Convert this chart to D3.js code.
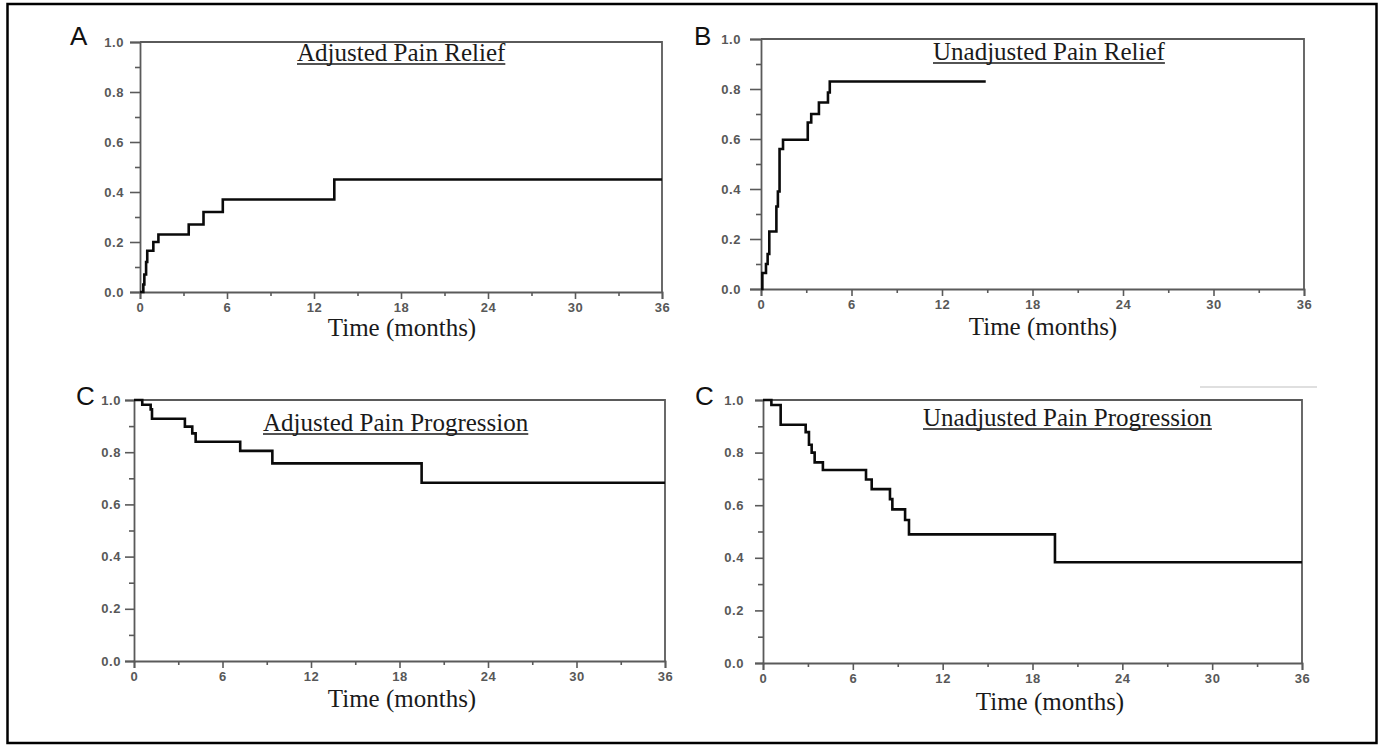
<!DOCTYPE html>
<html>
<head>
<meta charset="utf-8">
<script src="https://cdn.jsdelivr.net/npm/d3@7"></script>
<style>
  html, body { margin: 0; padding: 0; background: #fff; }
  svg { display: block; }
  .tick-label { font-family: "Liberation Sans", Arial, sans-serif; font-size: 13px; font-weight: bold; fill: #585858; letter-spacing: 0.6px; }
  .serif { font-family: "Liberation Serif", "Times New Roman", serif; fill: #1a1a1a; }
  .letter { font-family: "Liberation Sans", Arial, sans-serif; font-size: 26px; fill: #111; }
</style>
</head>
<body>
<svg id="chart" width="1385" height="746"></svg>
<script>
// Kaplan-Meier style step curves: event times (months) and cumulative proportions
const xTicks = [0, 6, 12, 18, 24, 30, 36];
const xMinorTicks = [3, 9, 15, 21, 27, 33];
const yTicks = [0, 0.2, 0.4, 0.6, 0.8, 1.0];
const yMinorTicks = [0.1, 0.3, 0.5, 0.7, 0.9];
const xAxisTitle = "Time (months)";

const titles = ["Adjusted Pain Relief", "Unadjusted Pain Relief", "Adjusted Pain Progression", "Unadjusted Pain Progression"];
const letters = ["A", "B", "C", "C"];

const timesA = [0, 0.23, 0.3, 0.42, 0.5, 0.92, 1.27, 3.36, 4.38, 5.71, 13.4, 36];
const valsA  = [0, 0.03, 0.07, 0.12, 0.165, 0.20, 0.23, 0.27, 0.32, 0.37, 0.45, 0.45];

const timesB = [0, 0.09, 0.33, 0.44, 0.55, 1.02, 1.12, 1.23, 1.46, 3.1, 3.33, 3.84, 4.44, 4.56, 14.9];
const valsB  = [0, 0.064, 0.10, 0.14, 0.23, 0.33, 0.39, 0.56, 0.597, 0.666, 0.70, 0.746, 0.786, 0.83, 0.83];

const timesC = [0, 0.56, 1.13, 1.22, 3.45, 3.95, 4.18, 7.2, 9.38, 19.5, 36];
const valsC  = [1, 0.982, 0.964, 0.928, 0.898, 0.872, 0.84, 0.805, 0.757, 0.683, 0.683];

const timesD = [0, 0.56, 1.18, 2.85, 3.07, 3.25, 3.45, 4.0, 6.88, 7.26, 8.48, 8.64, 9.49, 9.75, 19.5, 36];
const valsD  = [1, 0.981, 0.906, 0.878, 0.83, 0.80, 0.763, 0.734, 0.698, 0.661, 0.623, 0.584, 0.544, 0.489, 0.383, 0.383];

const seriesTimes = [timesA, timesB, timesC, timesD];
const seriesVals = [valsA, valsB, valsC, valsD];

// Panel frames and text placement
const layout = [
  { l: 140, r: 662, t: 42, b: 292, labelGap: 16, majorLen: 10, letterX: 70, letterY: 45, titleX: 297, titleY: 61, axisTitleX: 402, axisTitleY: 336 },
  { l: 761, r: 1304, t: 39, b: 289, labelGap: 20, majorLen: 11, letterX: 694, letterY: 45, titleX: 933, titleY: 60, axisTitleX: 1043, axisTitleY: 335 },
  { l: 134, r: 665, t: 400, b: 661, labelGap: 13, majorLen: 9, letterX: 76, letterY: 405, titleX: 263, titleY: 431, axisTitleX: 402, axisTitleY: 707 },
  { l: 763, r: 1302, t: 400, b: 663, labelGap: 19, majorLen: 8, letterX: 695, letterY: 405, titleX: 923, titleY: 426, axisTitleX: 1050, axisTitleY: 710 }
];

const svg = d3.select("#chart");

// outer frame
svg.append("rect")
  .attr("x", 7.5).attr("y", 4)
  .attr("width", 1369).attr("height", 739)
  .attr("fill", "none").attr("stroke", "#000").attr("stroke-width", 2.5);

// faint rule above the last panel
svg.append("line")
  .attr("x1", 1200).attr("x2", 1317).attr("y1", 387).attr("y2", 387)
  .attr("stroke", "#d4d4d4").attr("stroke-width", 1.5);

layout.forEach((p, i) => {
  const g = svg.append("g");
  const x = d3.scaleLinear().domain([0, 36]).range([p.l, p.r]);
  const y = d3.scaleLinear().domain([0, 1]).range([p.b, p.t]);
  const axisColor = "#5a5a5a";

  // frame top and right sides
  g.append("path")
    .attr("d", `M${p.l},${p.t}H${p.r}V${p.b}`)
    .attr("fill", "none").attr("stroke", axisColor).attr("stroke-width", 1.8);

  // y axis
  const yAxis = g.append("g").attr("transform", `translate(${p.l},0)`)
    .call(d3.axisLeft(y).tickValues(yTicks).tickFormat(d3.format(".1f"))
      .tickSize(p.majorLen).tickPadding(p.labelGap - p.majorLen));
  yAxis.selectAll("text").attr("class", "tick-label").attr("fill", null);
  yAxis.select(".domain").attr("stroke", axisColor).attr("stroke-width", 1.8);
  yAxis.selectAll(".tick line").attr("stroke", axisColor).attr("stroke-width", 1.6);
  const yMinor = g.append("g").attr("transform", `translate(${p.l},0)`)
    .call(d3.axisLeft(y).tickValues(yMinorTicks).tickSize(5).tickFormat(""));
  yMinor.select(".domain").remove();
  yMinor.selectAll(".tick line").attr("stroke", axisColor).attr("stroke-width", 1.6);

  // x axis
  const xAxis = g.append("g").attr("transform", `translate(0,${p.b})`)
    .call(d3.axisBottom(x).tickValues(xTicks).tickSize(7).tickPadding(4));
  xAxis.selectAll("text").attr("class", "tick-label").attr("fill", null);
  xAxis.select(".domain").attr("stroke", axisColor).attr("stroke-width", 1.8);
  xAxis.selectAll(".tick line").attr("stroke", axisColor).attr("stroke-width", 1.6);
  const xMinor = g.append("g").attr("transform", `translate(0,${p.b})`)
    .call(d3.axisBottom(x).tickValues(xMinorTicks).tickSize(4).tickFormat(""));
  xMinor.select(".domain").remove();
  xMinor.selectAll(".tick line").attr("stroke", axisColor).attr("stroke-width", 1.6);

  // step curve
  const pts = seriesTimes[i].map((t, k) => [t, seriesVals[i][k]]);
  const line = d3.line().x(d => x(d[0])).y(d => y(d[1])).curve(d3.curveStepAfter);
  g.append("path").datum(pts)
    .attr("d", line)
    .attr("fill", "none").attr("stroke", "#0a0a0a").attr("stroke-width", 2.6)
    .attr("stroke-linejoin", "miter");

  // panel title with underline
  const title = g.append("text").attr("class", "serif")
    .attr("x", p.titleX).attr("y", p.titleY)
    .attr("font-size", 25).text(titles[i]);
  const w = title.node().getComputedTextLength();
  g.append("line")
    .attr("x1", p.titleX).attr("x2", p.titleX + w)
    .attr("y1", p.titleY + 3).attr("y2", p.titleY + 3)
    .attr("stroke", "#1a1a1a").attr("stroke-width", 1.4);

  // axis title
  g.append("text").attr("class", "serif")
    .attr("x", p.axisTitleX).attr("y", p.axisTitleY)
    .attr("text-anchor", "middle").attr("font-size", 25)
    .text(xAxisTitle);

  // panel letter
  g.append("text").attr("class", "letter")
    .attr("x", p.letterX).attr("y", p.letterY)
    .text(letters[i]);
});
</script>
</body>
</html>
